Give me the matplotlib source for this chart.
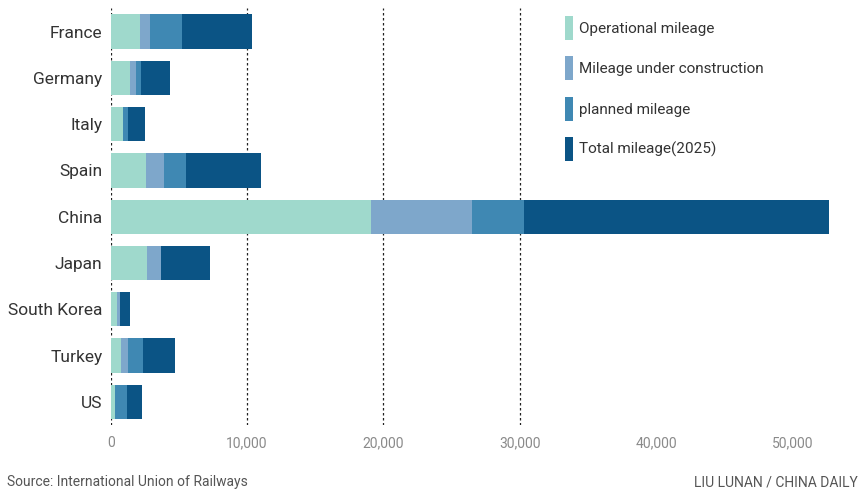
import matplotlib
matplotlib.use("Agg")
import matplotlib.pyplot as plt
from matplotlib.patches import Patch
import numpy as np

plt.rcParams["font.family"] = ["Roboto", "DejaVu Sans"]

# data (kilometres)
countries = ["France", "Germany", "Italy", "Spain", "China", "Japan",
             "South Korea", "Turkey", "US"]
operational = [2180, 1450, 880, 2620, 19100, 2670, 450, 760, 350]
under_construction = [730, 370, 0, 1270, 7400, 1000, 250, 490, 0]
planned = [2320, 370, 400, 1640, 3800, 0, 0, 1130, 850]
total_2025 = [5140, 2130, 1270, 5530, 22400, 3600, 680, 2320, 1100]

series_names = ["Operational mileage", "Mileage under construction",
                "planned mileage", "Total mileage(2025)"]
colors = ["#9fd9cc", "#7ea7cb", "#3f88b3", "#0b5485"]

x_ticks = [0, 10000, 20000, 30000, 40000, 50000]
x_ticklabels = ["0", "10,000", "20,000", "30,000", "40,000", "50,000"]
grid_at = [0, 10000, 20000, 30000]

fig = plt.figure(figsize=(8.65, 4.97), dpi=100)
ax = fig.add_axes([0.128, 0.145, 0.862, 0.838])

y = np.arange(len(countries))
left = np.zeros(len(countries))
for vals, c in zip([operational, under_construction, planned, total_2025], colors):
    ax.barh(y, vals, left=left, height=0.74, color=c, zorder=3)
    left += np.array(vals)

for g in grid_at:
    ax.axvline(g, color="#222222", linestyle=(0, (2, 2)), linewidth=0.9, zorder=1)

ax.set_ylim(len(countries) - 0.5, -0.5)
ax.set_xlim(0, 54700)
ax.set_yticks(y)
ax.set_yticklabels(countries, fontsize=12.5, color="#333333")
ax.set_xticks(x_ticks)
ax.set_xticklabels(x_ticklabels, fontsize=10, color="#8a8a8a")
ax.tick_params(axis="both", length=0)
ax.tick_params(axis="y", pad=6)
ax.tick_params(axis="x", pad=8)
for s in ax.spines.values():
    s.set_visible(False)

handles = [Patch(facecolor=c) for c in colors]
leg = ax.legend(handles, series_names, loc="upper left",
                bbox_to_anchor=(0.599, 1.0), frameon=False,
                fontsize=11, handlelength=0.5, handleheight=2.0,
                handletextpad=0.4, labelspacing=1.1, borderaxespad=0.1)
for t in leg.get_texts():
    t.set_color("#333333")

fig.text(0.008, 0.03, "Source: International Union of Railways",
         fontsize=10, color="#555555", ha="left", va="center")
fig.text(0.992, 0.03, "LIU LUNAN / CHINA DAILY",
         fontsize=10, color="#555555", ha="right", va="center")

fig.savefig("out.png", dpi=100)
